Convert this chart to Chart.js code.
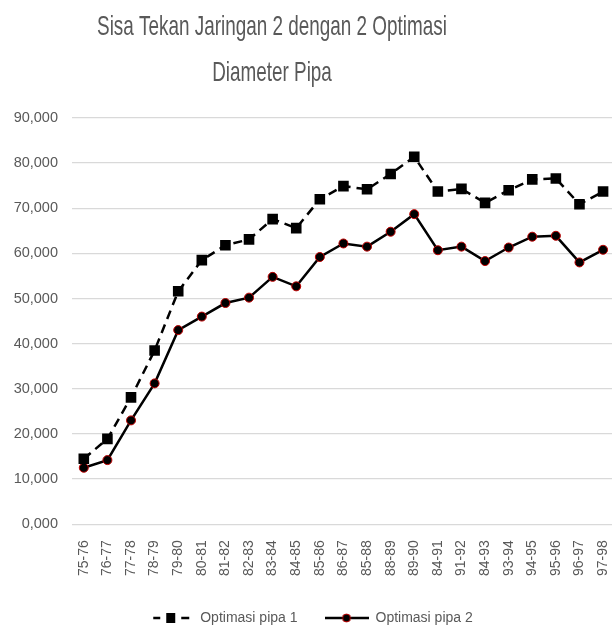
<!DOCTYPE html>
<html>
<head>
<meta charset="utf-8">
<script src="https://cdn.jsdelivr.net/npm/chart.js@4"></script>
<style>
  html, body { margin: 0; padding: 0; background: #fff; overflow: hidden; }
</style>
</head>
<body>
<canvas id="sisaTekan" width="628" height="641"></canvas>
<script>
const titleLines = ['Sisa Tekan Jaringan 2 dengan 2 Optimasi', 'Diameter Pipa'];
const periods = ['75-76', '76-77', '77-78', '78-79', '79-80', '80-81', '81-82', '82-83',
  '83-84', '84-85', '85-86', '86-87', '85-88', '88-89', '89-90', '84-91', '91-92',
  '84-93', '93-94', '94-95', '95-96', '96-97', '97-98'];
const seriesNames = ['Optimasi pipa 1', 'Optimasi pipa 2'];
const optimasiPipa1 = [14500, 18900, 28100, 38500, 51600, 58500, 61800, 63100, 67600, 65600,
  72000, 74900, 74200, 77600, 81400, 73700, 74300, 71200, 74000, 76400, 76600, 70900, 73700];
const optimasiPipa2 = [12500, 14200, 23000, 31200, 43000, 46000, 49000, 50200, 54800, 52700,
  59200, 62200, 61500, 64800, 68700, 60700, 61500, 58300, 61300, 63700, 63900, 58000, 60800];
const yTickLabels = ['0,000', '10,000', '20,000', '30,000', '40,000', '50,000', '60,000',
  '70,000', '80,000', '90,000'];

const textGray = '#595959';
const fontName = '"Liberation Sans", Arial, sans-serif';

// legend icons: line + marker, like the spreadsheet legend
function makeIcon(draw) {
  const c = document.createElement('canvas');
  c.width = 44;
  c.height = 16;
  draw(c.getContext('2d'));
  return c;
}
const icon1 = makeIcon(function (ctx) {
  ctx.strokeStyle = '#000';
  ctx.lineWidth = 2.5;
  ctx.beginPath();
  ctx.moveTo(4, 8); ctx.lineTo(11, 8);
  ctx.moveTo(32, 8); ctx.lineTo(40, 8);
  ctx.stroke();
  ctx.fillStyle = '#000';
  ctx.fillRect(17, 3, 9, 10);
});
const icon2 = makeIcon(function (ctx) {
  ctx.strokeStyle = '#000';
  ctx.lineWidth = 2.5;
  ctx.beginPath();
  ctx.moveTo(0, 8); ctx.lineTo(44, 8);
  ctx.stroke();
  ctx.beginPath();
  ctx.arc(22, 8, 4, 0, Math.PI * 2);
  ctx.fillStyle = '#000';
  ctx.fill();
  ctx.strokeStyle = '#c00000';
  ctx.lineWidth = 1;
  ctx.stroke();
});
const legendIcons = [icon1, icon2];

// title drawn narrow (condensed look of the original)
const squeezedTitle = {
  id: 'squeezedTitle',
  afterDraw(chart) {
    const ctx = chart.ctx;
    ctx.save();
    ctx.font = '28px ' + fontName;
    ctx.fillStyle = textGray;
    ctx.textAlign = 'center';
    ctx.textBaseline = 'alphabetic';
    titleLines.forEach(function (line, i) {
      ctx.save();
      ctx.translate(272, 35 + i * 46);
      ctx.scale(0.675, 1);
      ctx.fillText(line, 0, 0);
      ctx.restore();
    });
    ctx.restore();
  }
};

window.addEventListener('load', function () {
  const data = {
    labels: periods,
    datasets: [
      {
        label: seriesNames[0],
        data: optimasiPipa1,
        borderColor: '#000',
        backgroundColor: '#000',
        borderWidth: 2.5,
        borderDash: [9, 6],
        pointStyle: 'rect',
        pointRadius: 7.5,
        pointHoverRadius: 7.5,
        pointBorderWidth: 0,
        tension: 0
      },
      {
        label: seriesNames[1],
        data: optimasiPipa2,
        borderColor: '#000',
        backgroundColor: '#000',
        borderWidth: 2.5,
        pointStyle: 'circle',
        pointRadius: 4.5,
        pointHoverRadius: 4.5,
        pointBackgroundColor: '#000',
        pointBorderColor: '#c00000',
        pointBorderWidth: 1,
        tension: 0
      }
    ]
  };

  new Chart(document.getElementById('sisaTekan'), {
    type: 'line',
    data: data,
    plugins: [squeezedTitle],
    options: {
      responsive: false,
      animation: false,
      layout: { autoPadding: false, padding: { top: 118, right: 6, left: 0, bottom: 6 } },
      scales: {
        x: {
          offset: true,
          grid: { display: false },
          border: { display: false },
          ticks: {
            color: textGray,
            font: { family: fontName, size: 14 },
            minRotation: 90,
            maxRotation: 90,
            autoSkip: false,
            padding: 8
          }
        },
        y: {
          min: 0,
          max: 90000,
          afterFit: function (scale) { scale.width = 72; },
          grid: { color: '#d9d9d9', lineWidth: 1.3, drawTicks: false },
          border: { display: false },
          ticks: {
            stepSize: 10000,
            color: textGray,
            font: { family: fontName, size: 14.5 },
            padding: 14,
            callback: function (value, index) { return yTickLabels[index]; }
          }
        }
      },
      plugins: {
        title: { display: false },
        tooltip: { enabled: false },
        legend: {
          position: 'bottom',
          labels: {
            color: textGray,
            font: { family: fontName, size: 14 },
            usePointStyle: true,
            pointStyleWidth: 44,
            padding: 27,
            generateLabels: function (chart) {
              return chart.data.datasets.map(function (ds, i) {
                return {
                  text: ds.label,
                  pointStyle: legendIcons[i],
                  fontColor: textGray,
                  strokeStyle: 'transparent',
                  lineWidth: 0,
                  datasetIndex: i
                };
              });
            }
          }
        }
      }
    }
  });
}, false);
</script>
</body>
</html>
